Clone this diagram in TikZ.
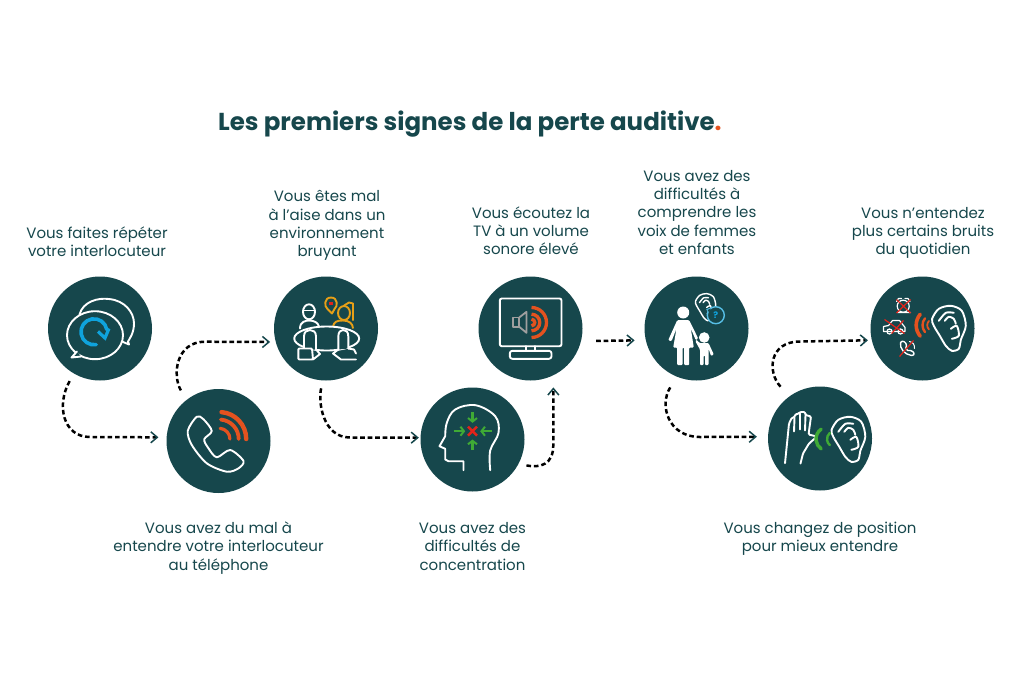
\documentclass[tikz,border=0pt]{standalone}
\usepackage{fontspec}
\setmainfont{Poppins}
\usetikzlibrary{arrows.meta, positioning, calc}
\definecolor{teal}{HTML}{16474C}
\definecolor{hot}{HTML}{E4521F}
\definecolor{sky}{HTML}{0FA3DD}
\definecolor{amber}{HTML}{E69F17}
\definecolor{leaf}{HTML}{3FAA35}
\definecolor{alarm}{HTML}{E2231A}
\tikzset{
    sign/.style={circle, fill=teal, minimum size=104pt, inner sep=0pt},
    lbl/.style={align=center, text=teal, inner sep=0pt, font=\fontsize{15}{18.3}\selectfont},
    flow/.style={line width=2.5pt, dash pattern=on 4.6pt off 2.9pt,
        -{Straight Barb[length=6.5pt, width=11pt, line width=1.5pt, color=teal]}},
    icon/.style={draw=white, line width=1.9pt, line join=round, line cap=round},
    sound/.style={line width=3pt, line cap=round},
    cross/.style={draw=alarm, line width=1.2pt},
    seat/.style={draw=amber, line width=1.9pt, line join=round},
    focus/.style={leaf, line width=2.3pt, -{Straight Barb[length=3.5pt, width=9pt, line width=2pt]}},
    ear/.pic={
        \draw[icon] plot[smooth cycle] coordinates {(-16.7,-9) (-10,-19) (2,-22) (13,-17) (17,-2) (12,12) (10,21) (3,23) (-3,18) (-9,8) (-15,-2)};
        \draw[icon] plot[smooth] coordinates {(-10,-7) (-3,-15) (5,-15)};
        \draw[icon] plot[smooth] coordinates {(-4,-7) (0,-11) (5,-9) (7,-4)};
        \draw[icon] plot[smooth] coordinates {(2,1) (8,-2) (10,8) (3,11)};
    }
}

\begin{document}
\begin{tikzpicture}[x=1pt,y=-1pt]
    \path[use as bounding box, fill=white] (0,0) rectangle (1024,683);

    % Title
    \node[anchor=base west, inner sep=0pt, text=teal, font=\fontsize{24.5}{28}\selectfont\bfseries] (title) at (218,130)
        {Les premiers signes de la perte auditive{\color{hot}.}};

    % Circles
    \foreach \name/\x/\y in {S1/100/328.5, S2/218.5/441, S3/326/328.5, S4/472.5/439.5, S5/530.5/328.5, S6/696.5/328.5, S7/820/438.5, S8/922.5/328.5} {
        \node[sign] (\name) at (\x,\y) {};
    }

    % Labels
    \node[lbl] (T1) at (97,241.5) {Vous faites répéter\\votre interlocuteur};
    \node[lbl] (T2) at (218.5,548) {Vous avez du mal à\\entendre votre interlocuteur\\au téléphone};
    \node[lbl] (T3) at (327,225.5) {Vous êtes mal\\à l’aise dans un\\environnement\\bruyant};
    \node[lbl] (T4) at (472.5,546.5) {Vous avez des\\difficultés de\\concentration};
    \node[lbl] (T5) at (531,230.5) {Vous écoutez la\\TV à un volume\\sonore élevé};
    \node[lbl] (T6) at (697,212.5) {Vous avez des\\difficultés à\\comprendre les\\voix de femmes\\et enfants};
    \node[lbl] (T7) at (820,539) {Vous changez de position\\pour mieux entendre};
    \node[lbl] (T8) at (923,233) {Vous n’entendez\\plus certains bruits\\du quotidien};

    % Dashed connectors
    \draw[flow, shorten <=8.5pt, shorten >=8pt] (S1.240) .. controls (56,405) and (63,437) .. (90,437) -- (S2.176);
    \draw[flow, shorten <=11pt, shorten >=5.5pt] (S2.128) .. controls (172,375) and (176,341.7) .. (205,341.7) -- (S3.195);
    \draw[flow, shorten <=8pt, shorten >=1.5pt] (S3.267) .. controls (318,400) and (322,437.5) .. (350,437.5) -- (S4.178);
    \draw[flow, shorten <=8pt, shorten >=12pt] (S4.332) .. controls (540,468) and (553.3,465) .. (553.3,445) -- (S5.296);
    \draw[flow, shorten <=15pt, shorten >=11pt] (S5.346.7) -- (S6.193.3);
    \draw[flow, shorten <=12.5pt, shorten >=11pt] (S6.248) .. controls (659,405) and (668,437) .. (700,437) -- (S7.178);
    \draw[flow, shorten <=13pt, shorten >=3.7pt] (S7.126) .. controls (767,372) and (769,341.5) .. (800,341.5) -- (S8.193.9);

    % Icon: speech bubbles
    \begin{scope}[shift={(S1)}]
        \draw[icon] (-20.5,-14) .. controls (-17,-27) and (-2,-31) .. (9,-29.5) .. controls (25,-28) and (34,-16) .. (34,-5) .. controls (34,5) and (29,11) .. (28,13) -- (29,16) -- (22,13);
        \draw[icon] (-5,6.7) ellipse[x radius=28pt, y radius=24pt];
        \draw[icon, fill=teal] (-23,23) -- (-28.5,29) -- (-19,28);
        \draw[sky, sound, line width=3.6pt] (-6,3.3) ++(-80:13pt) arc[start angle=-80, end angle=-350, radius=13pt];
        \draw[sky, sound, line cap=butt, line width=3.2pt] (-2,3) -- (5,9.5) -- (9,0);
    \end{scope}

    % Icon: telephone
    \begin{scope}[shift={(S2)}]
        \draw[icon] plot[smooth cycle, tension=.5] coordinates {(-21.7,-24.3) (-15,-21.7) (-6.7,-10) (-14.3,-1.7) (-10,7.3) (-1.7,16.3) (11.7,9) (25,20) (20,27.3) (8.3,30.7) (-11.7,22.3) (-26.7,4) (-30.7,-10.3)};
        \foreach \r/\w in {27/4.4, 19.5/3.8, 10.7/3.2} {
            \draw[hot, sound, line width=\w pt] (0.7,-2) ++(85:\r pt) arc[start angle=85, end angle=0, radius=\r pt];
        }
    \end{scope}

    % Icon: meeting table
    \begin{scope}[shift={(S3)}]
        \draw[icon] (-17,-16.7) ellipse[x radius=6pt, y radius=7.5pt];
        \draw[icon] (-23,-18) -- (-11,-18);
        \draw[icon] (-26,0) .. controls (-26,-7) and (-20,-8) .. (-17,-8) .. controls (-12,-8) and (-8,-6) .. (-7,-2);
        \draw[seat] (18,-15.5) ellipse[x radius=6pt, y radius=7pt];
        \draw[seat] (7,-2) .. controls (8,-7) and (11,-8) .. (17,-8) .. controls (23,-8) and (27,-5) .. (27,0);
        \draw[seat] (18,-23) -- (23,-26) -- (27,-25) -- (27,-8);
        \draw[seat] (1.5,-19.5) .. controls (-2,-22) and (-2,-31) .. (5,-31) .. controls (12,-31) and (12,-22) .. (8.5,-19.5) -- (6,-15) -- cycle;
        \fill[alarm] (3.3,-27) rectangle (6.7,-23.6);
        \draw[icon, fill=teal] (0.7,10) ellipse[x radius=32.5pt, y radius=12pt];
        \draw[icon, fill=teal] (-22,21.7) -- (-22,8) .. controls (-22,3) and (-19,1.5) .. (-16,1.5) .. controls (-13,1.5) and (-10,3) .. (-10,8) -- (-10,21);
        \draw[icon, fill=teal, rounded corners=1pt] (-27.7,20) -- (-14,20) -- (-13,31) -- (-27.7,31) -- cycle;
        \draw[icon] (-13,31) -- (-6,25.5) -- (-10,21);
        \draw[icon, fill=teal] (12.3,21) -- (12.3,8) .. controls (12.3,3) and (15,1.5) .. (17,1.5) .. controls (20,1.5) and (22.3,3) .. (22.3,8) -- (22.3,20);
        \draw[icon] (12.3,21) -- (7,25) -- (15,31) -- (30,31);
        \draw[icon] (22.3,20) -- (28,21) -- (30,25);
    \end{scope}

    % Icon: head and arrows
    \begin{scope}[shift={(S4)}]
        \draw[icon] plot[smooth, tension=.6] coordinates {(17.7,30.7) (17.7,11) (26,-6.7) (22.7,-23.3) (3,-34.3) (-17.3,-30) (-25.7,-16.7) (-27.3,-3.3)} -- (-33,6.7) -- (-27.3,9.3) -- (-27.3,20) -- (-24,21.7) -- (-9,21.7) -- (-9,30.7);
        \foreach \xa/\ya/\xb/\yb in {0/-27.3/0/-16.7, 0/10.7/0/0, -19/-8.3/-7.3/-8.3, 19.3/-8.3/7.7/-8.3} {
            \draw[focus] (\xa,\ya) -- (\xb,\yb);
        }
        \draw[alarm, line width=2.5pt] (-4.5,-12.8) -- (4.5,-3.8) (-4.5,-3.8) -- (4.5,-12.8);
    \end{scope}

    % Icon: screen and volume
    \begin{scope}[shift={(S5)}]
        \draw[icon, rounded corners=2pt] (-30.7,-30) rectangle (31,17.7);
        \draw[icon] (-4.7,17.7) -- (-4.7,22.3) (4.3,17.7) -- (4.3,22.3);
        \draw[icon, rounded corners=2.5pt] (-20.7,22.3) rectangle (21,30.3);
        \draw[gray!75, line width=1.8pt, line join=round] (-17.3,-11) rectangle (-11.3,-1.7);
        \draw[gray!75, line width=1.8pt, line join=round] (-11.3,-11) -- (-4,-16.7) -- (-4,4.3) -- (-11.3,-1.7);
        \foreach \r in {15, 8.3, 3.3} {
            \draw[hot, sound, line cap=butt, line width=3.3pt] (1,-6) ++(90:\r pt) arc[start angle=90, end angle=-90, radius=\r pt];
        }
    \end{scope}

    % Icon: woman and child
    \begin{scope}[shift={(S6)}]
        \fill[white] (-13.3,-16) circle[radius=6pt];
        \fill[white, rounded corners=1pt] (-19.3,-8.3) -- (-28.3,11.7) -- (-25,12.7) -- (-20,0) -- (-23.3,19) -- (-19.3,19) -- (-19.3,36.7) -- (-14,36.7) -- (-14,19) -- (-12.3,19) -- (-12.3,36.7) -- (-7.3,36.7) -- (-7.3,19) -- (-2.7,19) -- (-5.7,0) -- (-0.7,11.7) -- (1.7,10) -- (-7.3,-8.3) -- cycle;
        \fill[white] (7.7,9) circle[radius=5.3pt];
        \fill[white, rounded corners=1pt] (-0.5,11) -- (3,14.5) -- (12,14.5) -- (17.3,26) -- (14.5,27.5) -- (12,20) -- (12,36.7) -- (8.5,36.7) -- (8.5,27) -- (7,27) -- (7,36.7) -- (3.5,36.7) -- (3.5,21) -- (-1,13) -- cycle;
        \pic[scale=.6, icon/.append style={line width=1.4pt}] at (9,-21.7) {ear};
        \draw[fill=teal, draw=sky!70!white, line width=1.4pt] (10.7,-19) -- (14,-20) -- (16,-9) -- cycle;
        \draw[fill=teal, draw=sky!70!white, line width=1.4pt] (19.3,-13.3) circle[radius=8.5pt];
        \fill[teal] (11,-18.5) -- (14,-20) -- (15,-13) -- cycle;
        \node[text=sky, inner sep=0pt, font=\fontsize{9}{9}\selectfont\bfseries] (Q6) at (19.3,-13.3) {?};
    \end{scope}

    % Icon: hand behind the ear
    \begin{scope}[shift={(S7)}]
        \draw[icon, rounded corners=1.2pt] (-35,24.7) -- (-32,-5) -- (-31,-15) -- (-28,-21) -- (-25.5,-21) -- (-25,-24) -- (-21,-25) -- (-20,-26.5) -- (-15,-26.5) -- (-14.5,-23.5) -- (-9,-22) -- (-11.5,-4) -- (-3,-2) -- (-11,5) -- (-17,15) -- (-19.5,25);
        \draw[icon] (-25.5,-21) -- (-26,-7) (-20,-25) -- (-20,-9) (-14.5,-24) -- (-15,-8);
        \pic at (28.3,0.3) {ear};
        \draw[leaf, sound, line width=3.4pt] (8,0.5) ++(125:12pt) arc[start angle=125, end angle=235, radius=12pt];
        \draw[leaf, sound, line width=2.4pt] (15,0.5) ++(130:8pt) arc[start angle=130, end angle=230, radius=8pt];
    \end{scope}

    % Icon: everyday noises and ear
    \begin{scope}[shift={(S8)}]
        \pic at (26.3,-0.7) {ear};
        \draw[hot, sound, line width=3.6pt] (10.7,-3.3) ++(140:17pt) arc[start angle=140, end angle=220, radius=17pt];
        \draw[hot, sound, line width=2.4pt] (10.7,-3.3) ++(140:10.7pt) arc[start angle=140, end angle=220, radius=10.7pt];
        \draw[hot, sound, line width=1.8pt] (10.7,-3.3) ++(135:6pt) arc[start angle=135, end angle=225, radius=6pt];
        % clock
        \draw[icon, line width=1.2pt] (-19.3,-22.3) circle[radius=6pt];
        \draw[icon, line width=1.2pt] (-26,-27) -- (-24,-30) -- (-21,-30) (-12.5,-27) -- (-14.5,-30) -- (-17.5,-30) (-25,-16) -- (-12,-16);
        \draw[cross] (-26,-29) -- (-12,-15.5) (-12,-29) -- (-26,-15.5);
        % car
        \draw[icon, line width=1.2pt] (-39,2) -- (-39,-2) -- (-34,-3) -- (-30,-8) -- (-23,-8) -- (-19,-3) -- (-17.5,-1) -- (-17.5,3) -- (-39,3);
        \draw[icon, line width=1.2pt] (-33,3) circle[radius=2.5pt] (-22,3) circle[radius=2.5pt];
        \draw[cross] (-38,-9) -- (-18,5) (-19,-8) -- (-31,5);
        % phone
        \draw[icon, line width=1.4pt] (-22,14) .. controls (-23,20) and (-18,26) .. (-11,27) .. controls (-7,27) and (-8,23) .. (-12,22) -- (-15,22) .. controls (-17,20) and (-17,19) .. (-16,17) .. controls (-16,14) and (-20,11) .. (-22,14);
        \draw[icon, line width=1pt] (-13,13) .. controls (-9,14) and (-8,16) .. (-8,20);
        \draw[cross] (-9,12) -- (-23,28);
    \end{scope}
\end{tikzpicture}
\end{document}
